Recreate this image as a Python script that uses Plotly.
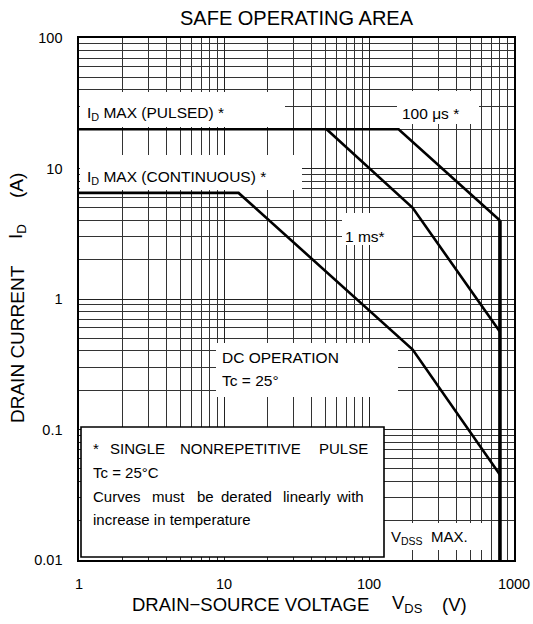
import plotly.graph_objects as go

# ---------------- data ----------------
vds_100us = [1, 160, 800]
id_100us = [20, 20, 4]
vdss_max_v = [800, 800]
vdss_max_i = [4, 0.01]
vds_1ms = [51, 200, 800]
id_1ms = [20, 5, 0.56]
vds_dc = [1, 12.6, 200, 800]
id_dc = [6.5, 6.5, 0.41, 0.045]

x_tick_vals = [1, 10, 100, 1000]
x_tick_text = ["1", "10", "100", "1000"]
y_tick_vals = [0.01, 0.1, 1, 10, 100]
y_tick_text = ["0.01", "0.1", "1", "10", "100"]

# minor grid lines (2..9 in each decade)
x_minor = [m * 10 ** e for e in range(0, 3) for m in range(2, 10)]
y_minor = [round(m * 10.0 ** e, 6) for e in range(-2, 2) for m in range(2, 10)]

FONT = "Liberation Sans, Arial, Helvetica, sans-serif"
L, R, T, B = 79, 514, 38, 560
W, H = 533, 624


def px(x):
    return (x - L) / (R - L)


def py(y):
    return (B - y) / (B - T)


def dx(x):  # pixel -> data value on log x axis
    return 10 ** ((x - L) / (R - L) * 3)


def dy(y):  # pixel -> data value on log y axis
    return 10 ** (2 - (y - T) / (B - T) * 4)


fig = go.Figure()
line_style = dict(color="black", width=2.6)
fig.add_trace(go.Scatter(x=vds_100us, y=id_100us, mode="lines", line=line_style, hoverinfo="skip"))
fig.add_trace(go.Scatter(x=vdss_max_v, y=vdss_max_i, mode="lines", line=dict(color="black", width=3.6), hoverinfo="skip"))
fig.add_trace(go.Scatter(x=vds_1ms, y=id_1ms, mode="lines", line=line_style, hoverinfo="skip"))
fig.add_trace(go.Scatter(x=vds_dc, y=id_dc, mode="lines", line=line_style, hoverinfo="skip"))

# white boxes hiding grid lines behind labels
boxes = [
    (80, 285, 92, 127),    # ID MAX (PULSED)
    (397, 479, 91, 124),   # 100 us
    (80, 302, 155, 190),   # ID MAX (CONTINUOUS)
    (342, 412, 213, 245),  # 1 ms
    (216, 398, 343, 397),  # DC OPERATION
    (384, 488, 523, 550),  # VDSS MAX
]
shapes = []
for x0, x1, y0, y1 in boxes:
    shapes.append(dict(type="rect", xref="x", yref="y", x0=dx(x0), x1=dx(x1), y0=dy(y1), y1=dy(y0),
                       fillcolor="white", line=dict(width=0), layer="between"))
# note box with border
shapes.append(dict(type="rect", xref="x", yref="y", x0=dx(81), x1=dx(384), y0=dy(557), y1=dy(427),
                   fillcolor="white", line=dict(color="black", width=1.6), layer="between"))

ann = []


def text(x, y, s, size=15, anchor="left", angle=0):
    ann.append(dict(xref="paper", yref="paper", x=px(x), y=py(y), text=s, showarrow=False,
                    xanchor=anchor, yanchor="middle", textangle=angle,
                    font=dict(family=FONT, size=size, color="black")))


text(85, 113, "I<sub>D</sub> MAX (PULSED) *", 15.5)
text(400, 113, "100 μs *", 15.5)
text(85, 177, "I<sub>D</sub> MAX (CONTINUOUS) *", 15.5)
text(343, 236, "1 ms*", 15.5)
text(220, 357, "DC OPERATION", 15.5)
text(220, 380, "Tc = 25°", 15.5)
# note (justified lines)
for xw, w in [(91, "*"), (108, "SINGLE"), (178, "NONREPETITIVE"), (317, "PULSE")]:
    text(xw, 448, w)
text(91, 472, "Tc = 25°C")
for xw, w in [(91, "Curves"), (150, "must"), (195, "be"), (219, "derated"), (281, "linearly"), (334, "with")]:
    text(xw, 496, w)
text(91, 519, "increase in temperature")
text(389, 537, "V<sub>DSS</sub>  MAX.", 15)

# axis titles and chart title
text(130, 604, "DRAIN−SOURCE VOLTAGE", 18.5)
text(390, 604, "V<sub>DS</sub>", 18.5)
text(440, 604, "(V)", 18.5)
text(17, 344, "DRAIN CURRENT", 19, anchor="center", angle=-90)
text(17, 232, "I<sub>D</sub>", 19, anchor="center", angle=-90)
text(17, 186, "(A)", 19, anchor="center", angle=-90)
text(297, 18, "SAFE OPERATING AREA", 20, anchor="center")

axis_common = dict(type="log", showgrid=True, gridcolor="#222222", gridwidth=1,
                   showline=True, linecolor="black", linewidth=1.6, mirror=True,
                   ticks="", zeroline=False, tickmode="array", automargin=False,
                   tickfont=dict(family=FONT, size=14.5, color="black"))

fig.update_layout(
    width=W, height=H,
    margin=dict(l=L, r=W - R, t=T, b=H - B),
    paper_bgcolor="white", plot_bgcolor="white",
    showlegend=False,
    shapes=shapes, annotations=ann,
    xaxis=dict(range=[0, 3], tickvals=x_tick_vals, ticktext=x_tick_text, ticklabelstandoff=10,
               minor=dict(tickmode="array", tickvals=x_minor, showgrid=True, gridcolor="#333333",
                          gridwidth=1, ticks=""),
               **axis_common),
    yaxis=dict(range=[-2, 2], tickvals=y_tick_vals, ticktext=y_tick_text, ticklabelstandoff=12,
               minor=dict(tickmode="array", tickvals=y_minor, showgrid=True, gridcolor="#333333",
                          gridwidth=1, ticks=""),
               **axis_common),
)

fig.write_html("out.html",
               config={"displayModeBar": False, "staticPlot": True},
               post_script="document.body.style.margin='0';document.body.style.overflow='hidden';")
